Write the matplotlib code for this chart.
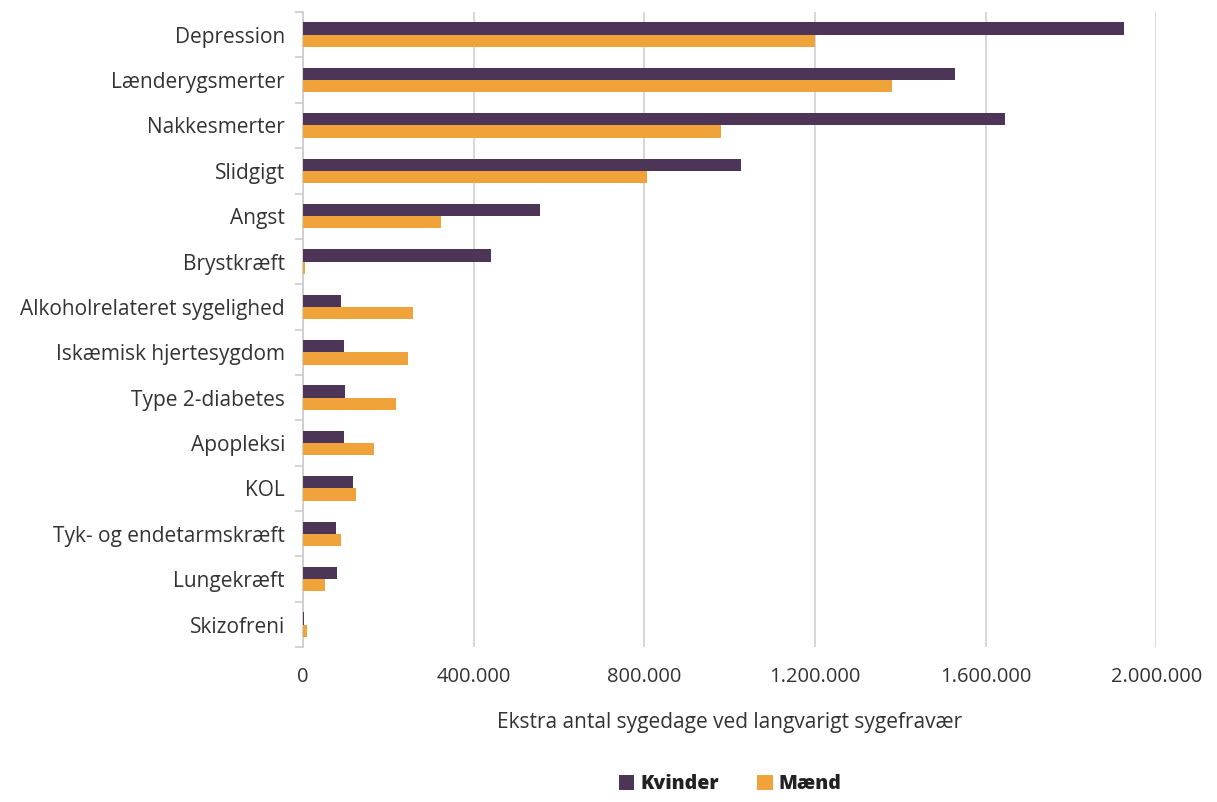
import numpy as np
import matplotlib.pyplot as plt
from matplotlib.ticker import FuncFormatter

categories = ["Depression", "Lænderygsmerter", "Nakkesmerter", "Slidgigt", "Angst",
              "Brystkræft", "Alkoholrelateret sygelighed", "Iskæmisk hjertesygdom",
              "Type 2-diabetes", "Apopleksi", "KOL", "Tyk- og endetarmskræft",
              "Lungekræft", "Skizofreni"]
kvinder = [1925000, 1529000, 1646000, 1027000, 556000, 441000, 89000, 96000,
           98000, 96000, 117000, 77000, 80000, 2000]
maend = [1200000, 1381000, 980000, 807000, 324000, 5000, 258000, 246000,
         218000, 166000, 124000, 89000, 52000, 9000]

purple = "#4D3557"
orange = "#F0A33A"

plt.rcParams['font.family'] = ['Open Sans', 'DejaVu Sans']

fig = plt.figure(figsize=(12.17, 8.02), dpi=100)
ax = fig.add_axes([0.249, 0.193, 0.701, 0.792])

y = np.arange(len(categories))
h = 0.27
ax.barh(y - h / 2, kvinder, height=h, color=purple, label="Kvinder", zorder=3)
ax.barh(y + h / 2, maend, height=h, color=orange, label="Mænd", zorder=3)

ax.set_ylim(len(categories) - 0.5, -0.5)
ax.set_xlim(0, 2000000)
ax.set_xticks(np.arange(0, 2000001, 400000))
ax.xaxis.set_major_formatter(FuncFormatter(lambda v, p: f"{int(v):,}".replace(",", ".")))
ax.set_yticks(y)
ax.set_yticklabels(categories)
ax.set_yticks(np.arange(-0.5, len(categories), 1), minor=True)
ax.tick_params(axis='y', which='major', length=0, pad=13, labelsize=15, labelcolor="#333333")
ax.tick_params(axis='y', which='minor', length=6, color="#cccccc", width=1.2)
ax.tick_params(axis='x', length=0, pad=14, labelsize=14.5, labelcolor="#333333")

ax.grid(axis='x', color="#d4d4d4", linewidth=1.3, zorder=0)
for s in ["top", "right", "bottom"]:
    ax.spines[s].set_visible(False)
ax.spines["left"].set_color("#cccccc")
ax.spines["left"].set_linewidth(1.2)

ax.set_xlabel("Ekstra antal sygedage ved langvarigt sygefravær", fontsize=15,
              color="#333333", labelpad=18)

leg = fig.legend(loc="lower center", bbox_to_anchor=(0.6, -0.012), ncol=2, frameon=False,
                 handlelength=0.8, handleheight=0.8, handletextpad=0.3, columnspacing=2.0,
                 prop={'weight': 'heavy', 'size': 14})
for t in leg.get_texts():
    t.set_color("#222222")

fig.savefig("out.png", dpi=100)
